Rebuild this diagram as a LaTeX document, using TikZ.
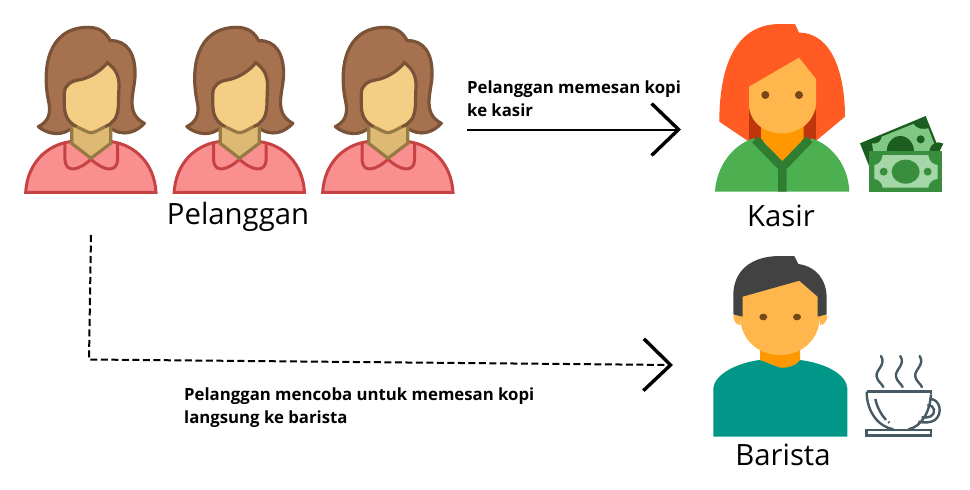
\documentclass[tikz,border=0pt]{standalone}
\usepackage{fontspec}
\setmainfont{Open Sans}
\usetikzlibrary{arrows.meta}
\definecolor{shirtfill}{HTML}{F98F8F}
\definecolor{shirtline}{HTML}{C74343}
\definecolor{hairfill}{HTML}{A6714E}
\definecolor{hairline}{HTML}{7A5237}
\definecolor{skinfill}{HTML}{F5CE85}
\definecolor{neckfill}{HTML}{DEB974}
\definecolor{neckline}{HTML}{967A44}
\definecolor{redhair}{HTML}{FF5B22}
\definecolor{redshade}{HTML}{BF360C}
\definecolor{neckorange}{HTML}{FF9800}
\definecolor{faceorange}{HTML}{FFB74D}
\definecolor{eyebrown}{HTML}{784719}
\definecolor{vestgreen}{HTML}{4CAF50}
\definecolor{collargreen}{HTML}{2E7D32}
\definecolor{notedark}{HTML}{1B5E20}
\definecolor{notemid}{HTML}{388E3C}
\definecolor{notelight}{HTML}{81C784}
\definecolor{notepale}{HTML}{A5D6A7}
\definecolor{shirtteal}{HTML}{009688}
\definecolor{darkhair}{HTML}{424242}
\definecolor{cupline}{HTML}{455A64}
\tikzset{
	>=latex,
	customer/.pic={
		\draw[shirtline,fill=shirtfill,line width=3pt,line join=miter]
			(47,547) .. controls (52,460) and (110,405) .. (180,395) -- (305,395)
			.. controls (375,405) and (433,460) .. (438,547) -- cycle;
		\draw[shirtline,line width=3pt]
			(165,400) -- (165,450) .. controls (168,490) and (205,482) .. (243,448)
			.. controls (280,482) and (320,490) .. (323,450) -- (323,400);
		\draw[hairline,fill=hairfill,line width=3.2pt,line join=round]
			(85,350) .. controls (115,335) and (125,310) .. (115,270)
			.. controls (97,180) and (110,52) .. (235,52)
			.. controls (270,52) and (290,70) .. (300,92)
			.. controls (350,90) and (378,130) .. (375,200)
			.. controls (372,250) and (345,310) .. (403,340)
			.. controls (380,365) and (340,385) .. (295,350)
			-- (190,350) .. controls (160,380) and (115,375) .. (85,350) -- cycle;
		\draw[neckline,fill=neckfill,line width=3.2pt,line join=miter]
			(185,345) -- (185,400) -- (243,445) -- (302,400) -- (302,345) -- cycle;
		\fill[skinfill] (163,250) .. controls (163,225) and (185,212) .. (205,210)
			.. controls (240,205) and (275,180) .. (292,158)
			.. controls (315,175) and (327,195) .. (327,225) -- (325,290)
			.. controls (322,325) and (310,340) .. (285,350)
			.. controls (262,362) and (252,368) .. (243,368)
			.. controls (235,368) and (225,362) .. (200,350)
			.. controls (170,335) and (163,310) .. (163,285) -- cycle;
		\draw[neckline,line width=3.2pt] (285,350)
			.. controls (262,362) and (252,368) .. (243,368)
			.. controls (235,368) and (225,362) .. (200,350);
		\draw[hairline,line width=3.2pt] (200,350)
			.. controls (170,335) and (163,310) .. (163,285) -- (163,250)
			.. controls (163,225) and (185,212) .. (205,210)
			.. controls (240,205) and (275,180) .. (292,158)
			.. controls (315,175) and (327,195) .. (327,225) -- (325,290)
			.. controls (322,325) and (310,340) .. (285,350);
	},
	cashier/.pic={
		\fill[redhair] (58,335) .. controls (58,200) and (90,42) .. (240,42)
			-- (285,42) -- (297,68) .. controls (400,68) and (435,200) .. (435,320)
			-- (345,395) -- (147,395) -- cycle;
		\fill[redshade] (147,300) rectangle (347,395);
		\fill[neckorange] (183,330) -- (311,330) -- (311,385) -- (247,460) -- (183,385) -- cycle;
		\fill[vestgreen] (45,545) .. controls (50,465) and (100,405) .. (160,385)
			-- (247,460) -- (335,385) .. controls (395,405) and (445,465) .. (448,545) -- cycle;
		\draw[collargreen,line width=8.5pt] (165,388) -- (247,472) -- (328,388) (247,472) -- (247,545);
		\fill[faceorange] (147,230) -- (297,143) -- (348,207) -- (348,285)
			.. controls (340,340) and (295,370) .. (247,370)
			.. controls (195,370) and (150,340) .. (147,285) -- cycle;
		\fill[eyebrown] (196,255) circle[radius=12] (297,255) circle[radius=12];
		% banknotes
		\fill[notedark] (480,400) -- (677,318) -- (720,425) -- (508,425) -- (508,470) -- cycle;
		\fill[notelight] (516,400) .. controls (535,405) and (545,390) .. (545,380)
			-- (640,342) .. controls (650,355) and (665,360) .. (685,355) -- (712,425) -- (520,425) -- cycle;
		\fill[notedark] (560,425) arc[start angle=180,end angle=360,x radius=41,y radius=47];
		\fill[notedark] (662,388) circle[radius=12];
		\fill[notedark] (688,425) arc[start angle=180,end angle=300,radius=28] -- (718,425) -- cycle;
		\fill[notemid] (508,423) rectangle (725,545);
		\fill[notepale] (523,465) .. controls (535,465) and (548,450) .. (548,435) -- (685,435)
			.. controls (685,450) and (698,465) .. (713,465) -- (713,507)
			.. controls (698,507) and (685,520) .. (685,533) -- (548,533)
			.. controls (548,520) and (535,507) .. (523,507) -- cycle;
		\fill[notemid] (617,485) ellipse[x radius=42,y radius=36];
		\fill[notemid] (551,485) circle[radius=12] (683,485) circle[radius=12];
	},
	barista/.pic={
		\fill[shirtteal] (40,575) -- (40,430) .. controls (45,380) and (130,350) .. (180,345)
			-- (300,345) .. controls (380,355) and (440,390) .. (442,430) -- (442,575) -- cycle;
		\fill[neckorange] (180,300) -- (180,345) -- (240,368)
			.. controls (265,370) and (290,360) .. (300,345) -- (300,300) -- cycle;
		\fill[faceorange] (100,210) -- (122,210) -- (122,240) .. controls (105,240) and (100,225) .. (100,210) -- cycle;
		\fill[faceorange] (382,210) -- (360,210) -- (360,240) .. controls (375,240) and (382,225) .. (382,210) -- cycle;
		\fill[faceorange] (120,100) -- (360,100) -- (360,210)
			.. controls (360,285) and (305,330) .. (240,330)
			.. controls (175,330) and (120,285) .. (120,210) -- cycle;
		\fill[darkhair] (100,208) -- (100,150) .. controls (100,80) and (150,33) .. (240,33)
			-- (283,33) -- (295,57) .. controls (350,65) and (380,105) .. (380,160) -- (380,208)
			-- (353,215) -- (353,155) -- (298,107) -- (128,155) -- (128,215) -- cycle;
		\fill[eyebrown] (190,216) ellipse[x radius=12,y radius=10] (291,216) ellipse[x radius=12,y radius=10];
		% coffee cup
		\begin{scope}[cupline,line width=2.4pt]
			\draw (500,440) -- (693,440) -- (693,448);
			\draw (500,440) .. controls (500,500) and (535,545) .. (580,553);
			\draw (693,448) .. controls (690,500) and (665,545) .. (625,553);
			\draw (688,462) .. controls (720,460) and (730,505) .. (705,525) .. controls (695,532) and (675,535) .. (655,530);
			\draw (682,480) .. controls (705,480) and (710,505) .. (690,515) .. controls (683,518) and (675,518) .. (665,517);
			\draw (526,462) .. controls (532,490) and (545,510) .. (558,525);
			\draw (565,530) -- (568,533);
			\draw (500,555) rectangle (693,572);
			\foreach \steamx in {0,58,116}{
				\draw[line cap=round] (543+\steamx,333) .. controls (560+\steamx,360) and (525+\steamx,375) .. (530+\steamx,395)
					.. controls (533+\steamx,410) and (545+\steamx,415) .. (550+\steamx,426);
			}
		\end{scope}
	},
}
\begin{document}
\begin{tikzpicture}[x=1pt,y=-1pt,
		role/.style={font=\fontsize{29.3}{34}\selectfont, inner sep=0pt, anchor=base},
		note/.style={font=\fontsize{16.75}{23}\selectfont\bfseries, align=left, anchor=north west, inner sep=0pt},
		flow/.style={line width=2pt, -{Straight Barb[length=27pt,width=52pt,line width=3.4pt]}},
		dashflow/.style={flow, dash pattern=on 7pt off 3.5pt},
	]
		\useasboundingbox (0,0) rectangle (970,490);
		\pic[scale=1/3] at (10,10) {customer};
		\pic[scale=1/3] at (158.5,10) {customer};
		\pic[scale=1/3] at (307,10) {customer};
		\pic[scale=1/3] at (700,10) {cashier};
		\pic[scale=1/3] at (700,245) {barista};
		\node(customers)[role] at (238,224) {Pelanggan};
		\node(kasir)[role] at (781,226) {Kasir};
		\node(baristaname)[role] at (783,465) {Barista};
		\node(ordernote)[note] at (467,81) {Pelanggan memesan kopi\\ke kasir};
		\node(directnote)[note] at (184,388) {Pelanggan mencoba untuk memesan kopi\\langsung ke barista};
		\coordinate(orderstart) at (467,129.5);
		\coordinate(orderend) at (681,129.5);
		\coordinate(directstart) at (91,235);
		\coordinate(directcorner) at (89,359.5);
		\coordinate(directend) at (673,365);
		\draw[flow] (orderstart) -- (orderend);
		\draw[dashflow] (directstart) -- (directcorner) -- (directend);
	\end{tikzpicture}
\end{document}
